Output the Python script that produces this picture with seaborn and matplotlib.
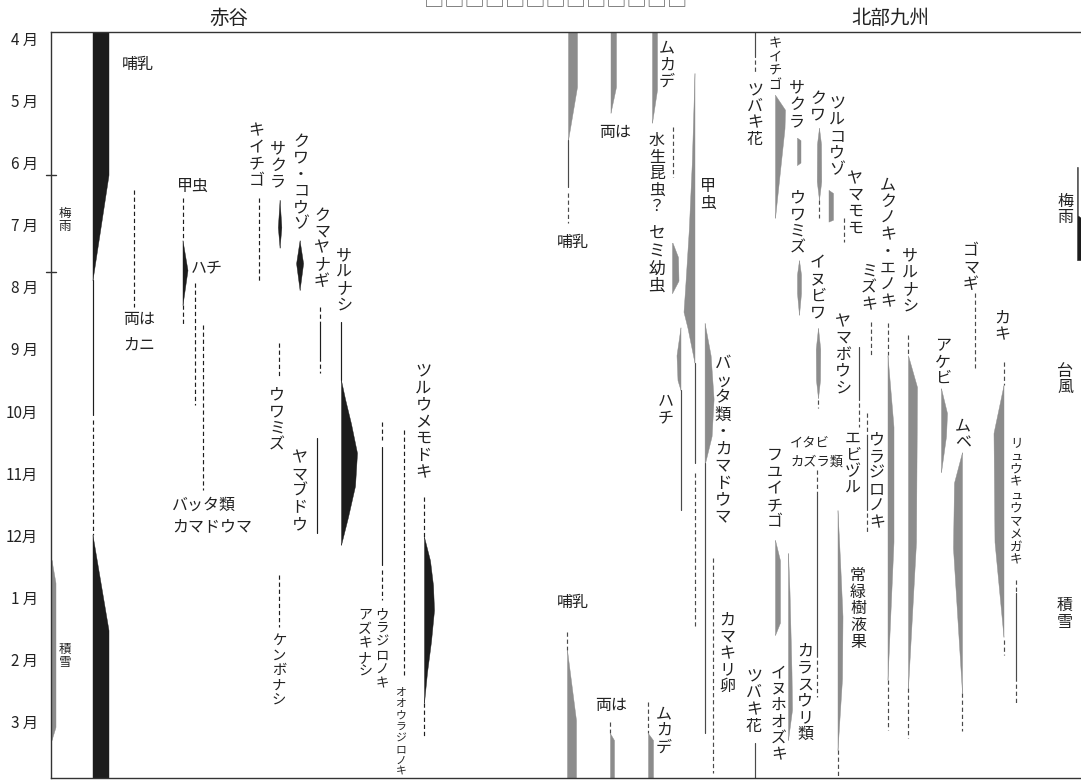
import numpy as np
import pandas as pd
import seaborn as sns
import matplotlib.pyplot as plt

sns.set_theme(style="white")
plt.rcParams['font.family'] = ['Noto Sans CJK JP', 'DejaVu Sans']

# months run from the top (April 1 = 0) to the bottom (end of March = 12)
MONTHS = ["4 月", "5 月", "6 月", "7 月", "8 月", "9 月",
          "10月", "11月", "12月", "1 月", "2 月", "3 月"]
PANELS = ["赤谷", "北部九州"]

# thin lines: (item, kind, start month, end month)
AKA_LINES = [
    ("赤谷:哺乳", "solid", 3.99, 6.16), ("赤谷:哺乳", "dashed", 6.24, 8.09),
    ("赤谷:両はカニ", "dashed", 2.54, 4.42),
    ("赤谷:甲虫", "dashed", 2.67, 3.35), ("赤谷:甲虫", "dashed", 4.39, 4.71),
    ("赤谷:ハチ", "dashed", 4.04, 6.00),
    ("赤谷:バッタ類", "dashed", 4.71, 7.37),
    ("赤谷:キイチゴ", "dashed", 2.67, 4.04),
    ("赤谷:クマヤナギ", "dashed", 4.42, 4.71), ("赤谷:クマヤナギ", "solid", 4.71, 5.23),
    ("赤谷:クマヤナギ", "dashed", 5.23, 5.49),
    ("赤谷:サルナシ", "solid", 4.66, 5.60),
    ("赤谷:ヤマブドウ", "solid", 6.53, 8.06),
    ("赤谷:ウワミズ", "dashed", 5.00, 5.55),
    ("赤谷:ケンボナシ", "dashed", 8.73, 9.57),
    ("赤谷:ウラジロノキ", "dashed", 6.27, 6.56), ("赤谷:ウラジロノキ", "solid", 6.68, 8.57),
    ("赤谷:ウラジロノキ", "dashed", 8.65, 9.14),
    ("赤谷:オオウラジロノキ", "dashed", 6.40, 10.34),
    ("赤谷:ツルウメモドキ", "dashed", 7.48, 8.12), ("赤谷:ツルウメモドキ", "dashed", 10.79, 11.34),
]

KYU_LINES = [
    ("北部:哺乳上", "solid", 1.74, 2.49), ("北部:哺乳上", "dashed", 2.59, 3.07),
    ("北部:哺乳下", "dashed", 9.65, 9.94),
    ("北部:両は下", "dashed", 11.10, 11.28),
    ("北部:ムカデ下", "dashed", 10.78, 11.28),
    ("北部:水生昆虫", "dashed", 1.53, 2.33),
    ("北部:甲虫", "solid", 5.32, 6.93), ("北部:甲虫", "dashed", 7.09, 9.57),
    ("北部:ハチ", "solid", 5.76, 7.69),
    ("北部:バッタ類", "solid", 6.93, 11.28),
    ("北部:カマキリ卵", "dashed", 8.46, 11.92),
    ("北部:ツバキ花上", "solid", 0.0, 0.40), ("北部:ツバキ花上", "dashed", 0.45, 0.66),
    ("北部:ツバキ花下", "solid", 11.44, 12.0),
    ("北部:クワ", "dashed", 2.70, 2.99),
    ("北部:ヤマモモ", "dashed", 2.99, 3.38),
    ("北部:イヌビワ", "dashed", 5.92, 6.05),
    ("北部:ヤマボウシ", "solid", 5.07, 5.92), ("北部:ヤマボウシ", "dashed", 5.97, 6.35),
    ("北部:ミズキ", "dashed", 4.66, 5.20),
    ("北部:ムクノキ", "dashed", 4.68, 5.20), ("北部:ムクノキ", "dashed", 10.42, 11.23),
    ("北部:サルナシ", "dashed", 4.87, 5.20), ("北部:サルナシ", "dashed", 10.55, 11.36),
    ("北部:ゴマギ", "dashed", 4.20, 5.40),
    ("北部:ムベ", "dashed", 10.63, 11.25),
    ("北部:カキ", "dashed", 5.31, 5.68), ("北部:カキ", "dashed", 9.78, 10.02),
    ("北部:リュウキュウマメガキ", "dashed", 8.81, 9.02),
    ("北部:リュウキュウマメガキ", "solid", 9.02, 10.37),
    ("北部:リュウキュウマメガキ", "dashed", 10.37, 10.79),
    ("北部:イタビカズラ", "dashed", 7.05, 7.45), ("北部:イタビカズラ", "solid", 7.45, 9.99),
    ("北部:イタビカズラ", "dashed", 9.99, 10.70),
    ("北部:ウラジロノキ", "dashed", 6.13, 6.51), ("北部:ウラジロノキ", "solid", 6.51, 7.69),
    ("北部:ウラジロノキ", "dashed", 7.74, 8.06),
    ("北部:常緑樹液果", "dashed", 11.55, 12.0),
]

# amount profiles: (item, side, [(month, amount), ...])
AKA_SHAPES = [
    ("赤谷:積雪", "right", [(8.49, 0), (8.86, 4), (11.18, 4), (11.39, 0)]),
    ("赤谷:哺乳", "right", [(0, 16), (2.30, 16), (3.99, 0)]),
    ("赤谷:哺乳", "right", [(8.09, 0), (9.62, 16), (12, 16)]),
    ("赤谷:甲虫", "right", [(3.35, 0), (3.83, 5), (4.39, 0)]),
    ("赤谷:サクラ", "center", [(2.70, 0), (3.14, 3.5), (3.47, 0)]),
    ("赤谷:クワ・コウゾ", "center", [(3.35, 0), (3.72, 7), (4.15, 0)]),
    ("赤谷:サルナシ", "right", [(5.60, 0), (5.9, 4), (6.3, 10), (6.77, 16), (7.3, 14),
                              (7.8, 7), (8.25, 0)]),
    ("赤谷:ツルウメモドキ", "right", [(8.12, 0), (8.5, 6), (8.9, 9), (9.3, 10), (9.8, 7),
                                  (10.3, 3), (10.79, 0)]),
]

KYU_SHAPES = [
    ("北部:哺乳上", "right", [(0, 9), (0.88, 9), (1.74, 0)]),
    ("北部:哺乳下", "right", [(9.94, 0), (11.07, 9), (12, 9)]),
    ("北部:両は上", "right", [(0, 5.5), (0.88, 5.5), (1.30, 0)]),
    ("北部:両は下", "right", [(11.28, 0), (11.39, 4), (12, 4)]),
    ("北部:ムカデ上", "right", [(0, 5), (0.93, 5), (1.46, 0)]),
    ("北部:ムカデ下", "right", [(11.28, 0), (11.39, 5), (12, 5)]),
    ("北部:セミ幼虫", "right", [(3.39, 0.5), (3.62, 6), (4.0, 6.5), (4.20, 0)]),
    ("北部:甲虫", "left", [(0.66, 0), (2.1, 2.7), (3.18, 5.7), (4.15, 9.5), (4.5, 11),
                        (4.76, 7), (5.32, 0)]),
    ("北部:ハチ", "left", [(4.75, 0), (5.2, 4), (5.6, 3), (5.76, 0)]),
    ("北部:バッタ類", "right", [(4.68, 0), (5.2, 6), (5.9, 9), (6.5, 7), (6.93, 0.5)]),
    ("北部:キイチゴ", "right", [(1.01, 0), (1.25, 10), (1.55, 9.5), (2.99, 0)]),
    ("北部:サクラ", "right", [(1.70, 0), (1.74, 3.5), (2.10, 3.5), (2.14, 0)]),
    ("北部:クワ", "center", [(1.54, 0), (1.8, 4), (2.4, 4.5), (2.7, 0)]),
    ("北部:ツルコウゾ", "right", [(2.54, 0), (2.59, 4.5), (3.02, 4.5), (3.05, 0)]),
    ("北部:ウワミズ", "center", [(3.67, 0), (3.9, 4), (4.2, 4), (4.55, 0)]),
    ("北部:イヌビワ", "center", [(4.76, 0), (5.1, 4.5), (5.6, 4), (5.89, 0)]),
    ("北部:ムクノキ", "right", [(5.20, 0), (6.35, 6), (8.2, 6), (10.42, 0)]),
    ("北部:サルナシ", "right", [(5.20, 0), (5.71, 9), (8.2, 8), (10.55, 0)]),
    ("北部:アケビ", "right", [(5.73, 0), (6.13, 6), (6.5, 5), (7.08, 0)]),
    ("北部:ムベ", "left", [(6.76, 0), (7.25, 8), (8.3, 9), (10.63, 0)]),
    ("北部:カキ", "left", [(5.68, 0), (6.45, 10), (8.2, 9), (9.73, 0)]),
    ("北部:フユイチゴ", "right", [(8.17, 0), (8.5, 5), (9.5, 5), (9.7, 0)]),
    ("北部:常緑樹液果", "right", [(7.69, 0), (8.5, 2.5), (9.4, 5), (10.4, 4.5), (11.55, 0)]),
    ("北部:イヌホオズキ", "right", [(8.38, 0), (9.0, 1.5), (10.3, 3.5), (10.9, 4), (11.39, 0)]),
    ("北部:梅雨帯", "right", [(2.17, 0.8), (2.95, 0.8), (2.99, 4), (3.67, 4)]),
]

# ---- layout: column positions (pixels), label placement, styles ----
COLUMN_X = {
    "赤谷:積雪": 51.5, "赤谷:哺乳": 92.5, "赤谷:両はカニ": 133.6, "赤谷:甲虫": 182.5,
    "赤谷:ハチ": 194.6, "赤谷:バッタ類": 203, "赤谷:キイチゴ": 259, "赤谷:サクラ": 279.6,
    "赤谷:クワ・コウゾ": 299.6, "赤谷:クマヤナギ": 320, "赤谷:サルナシ": 341,
    "赤谷:ヤマブドウ": 317, "赤谷:ウワミズ": 279, "赤谷:ケンボナシ": 279,
    "赤谷:ウラジロノキ": 382, "赤谷:オオウラジロノキ": 403.6, "赤谷:ツルウメモドキ": 424,
    "北部:哺乳上": 568, "北部:哺乳下": 567, "北部:両は上": 610.5, "北部:両は下": 610,
    "北部:ムカデ上": 652, "北部:ムカデ下": 648, "北部:水生昆虫": 673, "北部:セミ幼虫": 672,
    "北部:甲虫": 694.5, "北部:ハチ": 680.5, "北部:バッタ類": 704.6, "北部:カマキリ卵": 713,
    "北部:ツバキ花上": 755, "北部:ツバキ花下": 755, "北部:キイチゴ": 775, "北部:サクラ": 797,
    "北部:クワ": 819, "北部:ツルコウゾ": 828.5, "北部:ヤマモモ": 844, "北部:ウワミズ": 799,
    "北部:イヌビワ": 818, "北部:ヤマボウシ": 858.5, "北部:ミズキ": 871,
    "北部:ムクノキ": 887.5, "北部:サルナシ": 908, "北部:アケビ": 941, "北部:ゴマギ": 975,
    "北部:ムベ": 962, "北部:カキ": 1003.5, "北部:リュウキュウマメガキ": 1016,
    "北部:フユイチゴ": 775, "北部:イタビカズラ": 816.5, "北部:ウラジロノキ": 867,
    "北部:常緑樹液果": 837.5, "北部:イヌホオズキ": 788, "北部:梅雨帯": 1077,
}

# (text, x, month, orientation, font size) ; vertical: month = top, horizontal: month = centre
LABELS = [
    ("哺乳", 138, 0.52, "h", 11.5), ("両は", 139.5, 4.63, "h", 11.5), ("カニ", 139.5, 5.03, "h", 11.5),
    ("甲虫", 193, 2.49, "h", 11.5), ("ハチ", 206.6, 3.80, "h", 11.5),
    ("バッタ類", 204, 7.61, "h", 11.5), ("カマドウマ", 212, 7.96, "h", 11.5),
    ("キイチゴ", 256.5, 1.46, "v", 11.5), ("サクラ", 278, 1.74, "v", 11.5),
    ("クワ・コウゾ", 301, 1.62, "v", 11.5), ("クマヤナギ", 322, 2.81, "v", 11.5),
    ("サルナシ", 344, 3.46, "v", 11.5), ("ヤマブドウ", 299.6, 6.72, "v", 11.5),
    ("ウワミズ", 277, 5.71, "v", 11.5), ("ケンボナシ", 279, 9.67, "v", 10.3),
    ("ウラジロノキ", 382, 9.25, "v", 9.6), ("アズキナシ", 365, 9.25, "v", 10),
    ("オオウラジロノキ", 401, 10.54, "v", 7.8), ("ツルウメモドキ", 423.5, 5.32, "v", 11.7),
    ("梅雨", 65, 2.81, "v", 9), ("積雪", 65, 9.83, "v", 9),
    ("哺乳", 572.7, 3.39, "h", 11.5), ("哺乳", 573, 9.18, "h", 11.5),
    ("両は", 615, 1.62, "h", 11.5), ("両は", 611, 10.83, "h", 11.5),
    ("ムカデ", 667, 0.13, "v", 11.5), ("ムカデ", 664, 10.83, "v", 11.5),
    ("水生昆虫？", 657, 1.61, "v", 11.5), ("セミ幼虫", 657, 3.12, "v", 12),
    ("甲虫", 708, 2.35, "v", 11.5), ("ハチ", 666, 5.81, "v", 11.5),
    ("バッタ類・カマドウマ", 723, 5.20, "v", 11.8), ("カマキリ卵", 727.7, 9.33, "v", 11.5),
    ("ツバキ花", 755, 0.80, "v", 11.5), ("ツバキ花", 754, 10.23, "v", 11.5),
    ("キイチゴ", 775, 0.08, "v", 9.5), ("サクラ", 797, 0.77, "v", 11.5),
    ("クワ", 818, 0.93, "v", 11.5), ("ツルコウゾ", 837, 1.01, "v", 11.5),
    ("ヤマモモ", 855, 2.22, "v", 11.5), ("ウワミズ", 798, 2.54, "v", 11.5),
    ("イヌビワ", 818, 3.59, "v", 11.5), ("ヤマボウシ", 843, 4.52, "v", 11.5),
    ("ミズキ", 869, 3.72, "v", 11.5), ("ムクノキ・エノキ", 888, 2.33, "v", 11.5),
    ("サルナシ", 910, 3.47, "v", 11.5), ("アケビ", 943, 4.91, "v", 11.5),
    ("ゴマギ", 971, 3.39, "v", 11.5), ("ムベ", 963, 6.21, "v", 11.5),
    ("カキ", 1002, 4.47, "v", 11.5), ("リュウキュウマメガキ", 1016, 6.51, "v", 9),
    ("フユイチゴ", 775, 6.68, "v", 11.5), ("イタビ", 810, 6.61, "h", 9.5),
    ("カズラ類", 817, 6.92, "h", 9.5), ("エビヅル", 853, 6.40, "v", 11.5),
    ("ウラジロノキ", 877, 6.43, "v", 11.5), ("常緑樹液果", 858, 8.61, "v", 11.5),
    ("イヌホオズキ", 779, 10.18, "v", 11.3), ("カラスウリ類", 805, 9.83, "v", 11.5),
    ("梅雨", 1065, 2.59, "v", 11.5), ("台風", 1065, 5.32, "v", 11.5), ("積雪", 1065, 9.09, "v", 11.5),
]

BLACK = "#1c1c1c"
GRAY = "#8c8c8c"
TEXT = "#222222"
PX_PER_MONTH = 746 / 12


def shape_color(item):
    if item.startswith("赤谷:積雪"):
        return GRAY
    if item.startswith("赤谷") or item.endswith("梅雨帯"):
        return BLACK
    return GRAY


def draw_shape(ax, item, side, prof):
    m = np.array([p[0] for p in prof])
    w = np.array([p[1] for p in prof])
    mm = np.linspace(m[0], m[-1], 200)
    ww = np.interp(mm, m, w)
    x = COLUMN_X[item]
    if side == "right":
        x0, x1 = x, x + ww
    elif side == "left":
        x0, x1 = x - ww, x
    else:
        x0, x1 = x - ww / 2, x + ww / 2
    ax.fill_betweenx(mm, x0, x1, color=shape_color(item), lw=0.3, edgecolor=shape_color(item))


def draw_label(ax, text, x, month, orient, size):
    if orient == "h":
        ax.text(x, month, text, ha="center", va="center", fontsize=size, color=TEXT)
        return
    pitch = size * 100 / 72 * 1.04 / PX_PER_MONTH
    for i, ch in enumerate(text):
        ax.text(x, month + (i + 0.5) * pitch, ch, ha="center", va="center",
                fontsize=size, color=TEXT)


# long table of line segments for seaborn
rows = []
for panel, lines in zip(PANELS, [AKA_LINES, KYU_LINES]):
    for k, (item, kind, m0, m1) in enumerate(lines):
        for m in (m0, m1):
            rows.append({"x": COLUMN_X[item], "month": m, "seg": f"{panel}{k}",
                         "kind": kind, "panel": panel})
segs = pd.DataFrame(rows)

fig = plt.figure(figsize=(10.81, 7.80), dpi=100)
ax = fig.add_axes([51 / 1081, 2 / 780, 1030 / 1081, 746 / 780])

sns.lineplot(data=segs, x="x", y="month", units="seg", estimator=None, sort=False,
             orient="y", hue="panel", palette={"赤谷": "#1e1e1e", "北部九州": "#4a4a4a"},
             style="kind", dashes={"solid": "", "dashed": (3.6, 2.4)},
             linewidth=0.85, legend=False, ax=ax)

for item, side, prof in AKA_SHAPES + KYU_SHAPES:
    draw_shape(ax, item, side, prof)

for lab in LABELS:
    draw_label(ax, *lab)

ax.set_xlim(51, 1081)
ax.set_ylim(12, 0)
ax.set_xticks([])
ax.set_yticks([])
ax.set_xlabel("")
ax.set_ylabel("")
for side in ["top", "bottom", "left"]:
    ax.spines[side].set_color("#333333")
    ax.spines[side].set_linewidth(1.0)
ax.spines["right"].set_visible(False)

# month labels
for i, mon in enumerate(MONTHS):
    ax.text(38, i + 0.13, mon, ha="right", va="center", fontsize=11, color=TEXT, clip_on=False)

# rainy season marks on the left axis
for m in (2.30, 3.86):
    ax.plot([46, 56], [m, m], color="#333333", lw=1.0, clip_on=False)

# panel titles
ax.text(229, -0.225, PANELS[0], ha="center", va="center", fontsize=14, color=TEXT, clip_on=False)
ax.text(890, -0.225, PANELS[1], ha="center", va="center", fontsize=14, color=TEXT, clip_on=False)
# header row of missing-glyph boxes, cut by the top edge as in the source
ax.text(556, -0.33, "□" * 13, ha="center", va="bottom", fontsize=14.6, color="#666666",
        clip_on=False)

fig.savefig("out.png", dpi=100)
